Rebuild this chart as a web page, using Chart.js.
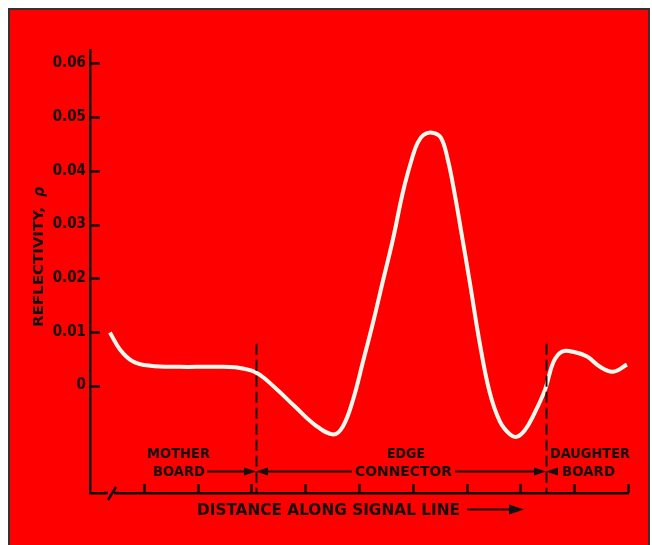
<!DOCTYPE html>
<html>
<head>
<meta charset="utf-8">
<script src="https://cdn.jsdelivr.net/npm/chart.js@4"></script>
<style>
  html, body { margin: 0; padding: 0; background: #fff; }
  canvas { display: block; }
</style>
</head>
<body>
<canvas id="reflexion" width="652" height="545"></canvas>
<script>
// curva (distancia en divisiones, reflectividad rho)
const distancia = [0.37, 0.56, 0.80, 1.12, 1.67, 2.23, 2.70, 3.09, 3.44, 3.81, 4.18, 4.52, 4.70, 4.89,
  5.07, 5.26, 5.45, 5.63, 5.82, 6.00, 6.09, 6.20, 6.36, 6.52, 6.65, 6.78, 6.91, 7.06, 7.25, 7.43,
  7.62, 7.81, 7.94, 8.09, 8.23, 8.46, 8.61, 8.77, 8.98, 9.24, 9.48, 9.72, 9.98];
const reflectividad = [0.0099, 0.0067, 0.0045, 0.0037, 0.0035, 0.0035, 0.0034, 0.0024, -0.0004, -0.0039, -0.0073, -0.0091, -0.0076, -0.0026,
  0.0043, 0.0117, 0.0197, 0.0272, 0.0362, 0.0428, 0.0452, 0.0467, 0.0471, 0.0462, 0.0421, 0.0356, 0.0281, 0.0192, 0.0076, -0.0013,
  -0.0067, -0.0091, -0.0095, -0.0082, -0.0058, -0.0007, 0.0043, 0.0063, 0.0063, 0.0054, 0.0035, 0.0026, 0.0039];

const marcasY = [0, 0.01, 0.02, 0.03, 0.04, 0.05, 0.06];
const etiquetasY = ["0", "0.01", "0.02", "0.03", "0.04", "0.05", "0.06"];
const marcasX = [1, 2, 3, 4, 5, 6, 7, 8, 9, 10];
const limites = [3.08, 8.48];   // tablero madre | conector | tablero hija

const fuente = "'DejaVu Sans Condensed', 'DejaVu Sans', sans-serif";
const tinta = '#151010';
const rojo = '#fe0000';

// texto estirado a un ancho dado
function rotulo(ctx, txt, x0, yc, ancho) {
  const w = ctx.measureText(txt).width;
  ctx.save();
  ctx.translate(x0, yc);
  ctx.scale(ancho / w, 1);
  ctx.textAlign = 'left';
  ctx.textBaseline = 'middle';
  ctx.fillText(txt, 0, 0);
  ctx.restore();
}

function corbata(ctx, px, py) {
  ctx.beginPath();
  ctx.moveTo(px, py); ctx.lineTo(px - 12, py - 4); ctx.lineTo(px - 12, py + 4); ctx.closePath();
  ctx.moveTo(px, py); ctx.lineTo(px + 12, py - 4); ctx.lineTo(px + 12, py + 4); ctx.closePath();
  ctx.fill();
}

const fondo = {
  id: 'fondo',
  beforeDraw(chart) {
    const ctx = chart.ctx;
    ctx.save();
    ctx.fillStyle = '#fff';
    ctx.fillRect(0, 0, chart.width, chart.height);
    ctx.fillStyle = rojo;
    ctx.fillRect(10, 10, 638, chart.height - 10);
    ctx.strokeStyle = '#3a3030';
    ctx.lineWidth = 2;
    ctx.beginPath();
    ctx.moveTo(9, chart.height); ctx.lineTo(9, 9); ctx.lineTo(649, 9); ctx.lineTo(649, chart.height);
    ctx.stroke();
    ctx.restore();
  }
};

const rotulos = {
  id: 'rotulos',
  afterDraw(chart) {
    const ctx = chart.ctx;
    const x = chart.scales.x, y = chart.scales.y;
    const a = chart.chartArea;
    ctx.save();
    ctx.strokeStyle = tinta;
    ctx.fillStyle = tinta;
    ctx.lineWidth = 2.5;

    // marcas hacia dentro
    ctx.beginPath();
    marcasY.forEach(v => {
      const py = Math.round(y.getPixelForValue(v)) + 0.5;
      ctx.moveTo(a.left, py); ctx.lineTo(a.left + 10, py);
    });
    marcasX.forEach(v => {
      const px = Math.round(x.getPixelForValue(v)) + 0.5;
      ctx.moveTo(px, a.bottom); ctx.lineTo(px, a.bottom - 9);
    });
    ctx.stroke();

    // corte del eje
    ctx.fillStyle = rojo;
    ctx.fillRect(106, a.bottom - 3, 10, 6);
    ctx.fillStyle = tinta;
    ctx.beginPath();
    ctx.moveTo(104, a.bottom); ctx.lineTo(108, a.bottom);
    ctx.moveTo(108, a.bottom + 7); ctx.lineTo(116, a.bottom - 6);
    ctx.moveTo(114, a.bottom); ctx.lineTo(118, a.bottom);
    ctx.stroke();

    // limites discontinuos
    ctx.lineWidth = 2;
    ctx.setLineDash([11, 5]);
    limites.forEach(v => {
      const px = Math.round(x.getPixelForValue(v)) + 0.5;
      ctx.beginPath();
      ctx.moveTo(px, y.getPixelForValue(0.0078));
      ctx.lineTo(px, a.bottom);
      ctx.stroke();
    });
    ctx.setLineDash([]);

    // tramos
    const f1 = Math.round(x.getPixelForValue(limites[0]));
    const f2 = Math.round(x.getPixelForValue(limites[1]));
    ctx.font = 'bold 14px ' + fuente;
    rotulo(ctx, 'MOTHER', 147, 454, 63);
    rotulo(ctx, 'BOARD', 153, 472, 52);
    rotulo(ctx, 'EDGE', 387, 454, 38);
    rotulo(ctx, 'CONNECTOR', 355, 472, 97);
    rotulo(ctx, 'DAUGHTER', 550, 454, 80);
    rotulo(ctx, 'BOARD', 562, 472, 53);
    ctx.lineWidth = 2;
    ctx.beginPath();
    ctx.moveTo(207, 471.5); ctx.lineTo(f1 - 10, 471.5);
    ctx.moveTo(f1 + 10, 471.5); ctx.lineTo(352, 471.5);
    ctx.moveTo(455, 471.5); ctx.lineTo(f2 - 10, 471.5);
    ctx.stroke();
    corbata(ctx, f1, 471.5);
    corbata(ctx, f2, 471.5);

    // titulo del eje x con flecha
    ctx.font = 'bold 15px ' + fuente;
    rotulo(ctx, 'DISTANCE ALONG SIGNAL LINE', 197, 511, 263);
    ctx.lineWidth = 2;
    ctx.beginPath();
    ctx.moveTo(467, 509.5); ctx.lineTo(512, 509.5);
    ctx.stroke();
    ctx.beginPath();
    ctx.moveTo(524, 509.5); ctx.lineTo(509, 504.5); ctx.lineTo(509, 514.5); ctx.closePath();
    ctx.fill();

    // titulo del eje y
    ctx.save();
    ctx.translate(39, 327);
    ctx.rotate(-Math.PI / 2);
    ctx.font = 'bold 14px ' + fuente;
    rotulo(ctx, 'REFLECTIVITY,', 0, 0, 120);
    ctx.font = 'italic bold 15px ' + fuente;
    rotulo(ctx, 'ρ', 130, 1, 10);
    ctx.restore();

    ctx.restore();
  }
};

new Chart(document.getElementById('reflexion').getContext('2d'), {
  type: 'line',
  data: {
    datasets: [{
      data: distancia.map((d, i) => ({ x: d, y: reflectividad[i] })),
      borderColor: '#fff8ee',
      borderWidth: 4,
      pointRadius: 0,
      tension: 0.4,
      fill: false
    }]
  },
  options: {
    responsive: false,
    animation: false,
    layout: { padding: { left: 10, top: 50, right: 24, bottom: 52 } },
    plugins: { legend: { display: false }, tooltip: { enabled: false } },
    scales: {
      x: {
        type: 'linear',
        min: 0,
        max: 10,
        grid: { display: false, drawTicks: false },
        border: { display: true, color: tinta, width: 2.5 },
        ticks: { display: false },
        afterFit: s => { s.height = 0; }
      },
      y: {
        min: -0.02,
        max: 0.0625,
        grid: { display: false, drawTicks: false },
        border: { display: true, color: tinta, width: 2.5 },
        afterBuildTicks: s => { s.ticks = marcasY.map(v => ({ value: v })); },
        ticks: {
          padding: 4,
          color: tinta,
          font: { family: fuente, size: 15, weight: 'bold' },
          callback: (v, i) => etiquetasY[i]
        },
        afterFit: s => { s.width = 80; }
      }
    }
  },
  plugins: [fondo, rotulos]
});
</script>
</body>
</html>
